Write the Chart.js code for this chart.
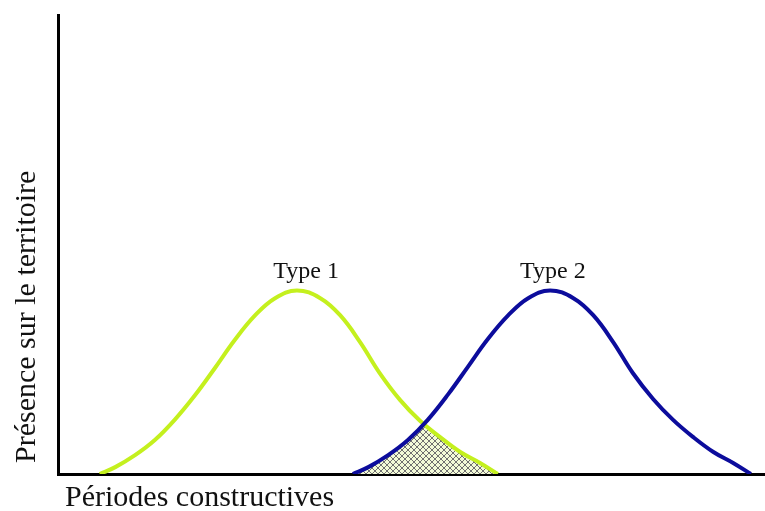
<!DOCTYPE html>
<html>
<head>
<meta charset="utf-8">
<script src="https://cdn.jsdelivr.net/npm/chart.js@4/dist/chart.umd.min.js"></script>
<style>
  html, body { margin: 0; padding: 0; background: #fff; }
  #wrap { width: 765px; height: 511px; }
</style>
</head>
<body>
<div id="wrap"><canvas id="chart"></canvas></div>
<script>
// Type 1 curve (green)
const greenX = [5.9, 8.1, 10.9, 13.7, 16.5, 19.4, 22.2, 25.0, 27.9, 30.7, 33.8, 37.1, 39.9, 42.7, 45.5, 48.4, 51.2, 54.0, 56.9, 59.7, 62.2];
const greenY = [0, 1.5, 4.1, 7.4, 11.8, 17.2, 23.1, 29.2, 34.6, 38.3, 40.0, 38.3, 34.6, 28.8, 22.0, 16.1, 11.6, 8.1, 4.8, 2.4, 0];

// Type 2 curve (blue)
const blueX = [41.7, 43.9, 46.7, 49.5, 52.3, 55.2, 58.0, 60.8, 63.7, 66.5, 69.6, 72.9, 75.7, 78.5, 81.3, 84.2, 87.0, 89.8, 92.7, 95.5, 98.0];
const blueY = [0, 1.5, 4.1, 7.4, 11.8, 17.4, 23.4, 29.4, 34.6, 38.3, 40.0, 38.3, 34.6, 28.8, 22.0, 16.3, 11.8, 8.1, 4.8, 2.4, 0];

// overlap zone (hatched) = under both curves
const overlapX = [41.7, 42.8, 43.9, 45.3, 46.7, 48.1, 49.5, 51.7, 52.8, 54.0, 55.4, 56.9, 58.3, 59.7, 61.0, 62.2];
const overlapY = [0, 0.7, 1.5, 2.7, 4.1, 5.6, 7.4, 10.9, 9.4, 8.1, 6.4, 4.8, 3.5, 2.4, 1.1, 0];

const typeLabels = ['Type 1', 'Type 2'];
const labelX = [35.1, 70.0];
const labelY = [42.7, 42.7];

const xTitle = 'Périodes constructives';
const yTitle = 'Présence sur le territoire';

const serif = '"Liberation Serif", "Times New Roman", serif';

function makeHatch() {
  const c = document.createElement('canvas');
  c.width = 6; c.height = 6;
  const g = c.getContext('2d');
  g.fillStyle = '#f3fad8';
  g.fillRect(0, 0, 6, 6);
  g.strokeStyle = '#707070';
  g.lineWidth = 1;
  g.beginPath();
  g.moveTo(0, 0); g.lineTo(6, 6);
  g.moveTo(0, 6); g.lineTo(6, 0);
  g.stroke();
  return g.createPattern(c, 'repeat');
}

const toPoints = (xs, ys) => xs.map((x, i) => ({ x: x, y: ys[i] }));

// text: curve names above the peaks + axis titles
const textPlugin = {
  id: 'chartText',
  afterDatasetsDraw(chart) {
    const { ctx, chartArea, scales: { x, y } } = chart;
    ctx.save();
    ctx.fillStyle = '#111';
    ctx.textBaseline = 'alphabetic';

    ctx.font = '24px ' + serif;
    ctx.textAlign = 'center';
    typeLabels.forEach((t, i) => {
      ctx.fillText(t, x.getPixelForValue(labelX[i]), y.getPixelForValue(labelY[i]));
    });

    ctx.font = '30px ' + serif;
    ctx.textAlign = 'left';
    ctx.fillText(xTitle, chartArea.left + 7, chartArea.bottom + 32);

    ctx.translate(chartArea.left - 23, chartArea.bottom - 11);
    ctx.rotate(-Math.PI / 2);
    ctx.fillText(yTitle, 0, 0);
    ctx.restore();
  }
};

const ctx = document.getElementById('chart').getContext('2d');
new Chart(ctx, {
  type: 'line',
  data: {
    datasets: [
      {
        label: 'Type 2',
        data: toPoints(blueX, blueY),
        borderColor: '#0c0c9c',
        borderWidth: 4,
        tension: 0.4,
        pointRadius: 0,
        fill: false,
        order: 0
      },
      {
        label: 'Type 1',
        data: toPoints(greenX, greenY),
        borderColor: '#c4f01e',
        borderWidth: 4,
        tension: 0.4,
        pointRadius: 0,
        fill: false,
        order: 1
      },
      {
        label: 'overlap',
        data: toPoints(overlapX, overlapY),
        borderWidth: 0,
        pointRadius: 0,
        backgroundColor: makeHatch(),
        fill: 'origin',
        order: 2
      }
    ]
  },
  options: {
    responsive: true,
    maintainAspectRatio: false,
    animation: false,
    layout: { padding: { top: 15, right: 0, left: 58, bottom: 37 } },
    plugins: {
      legend: { display: false },
      tooltip: { enabled: false }
    },
    scales: {
      x: {
        type: 'linear',
        min: 0,
        max: 100,
        grid: { display: false, drawTicks: false },
        ticks: { display: false },
        border: { display: true, color: '#000', width: 3 }
      },
      y: {
        min: 0,
        max: 100,
        grid: { display: false, drawTicks: false },
        ticks: { display: false },
        border: { display: true, color: '#000', width: 3 }
      }
    }
  },
  plugins: [textPlugin]
});
</script>
</body>
</html>
